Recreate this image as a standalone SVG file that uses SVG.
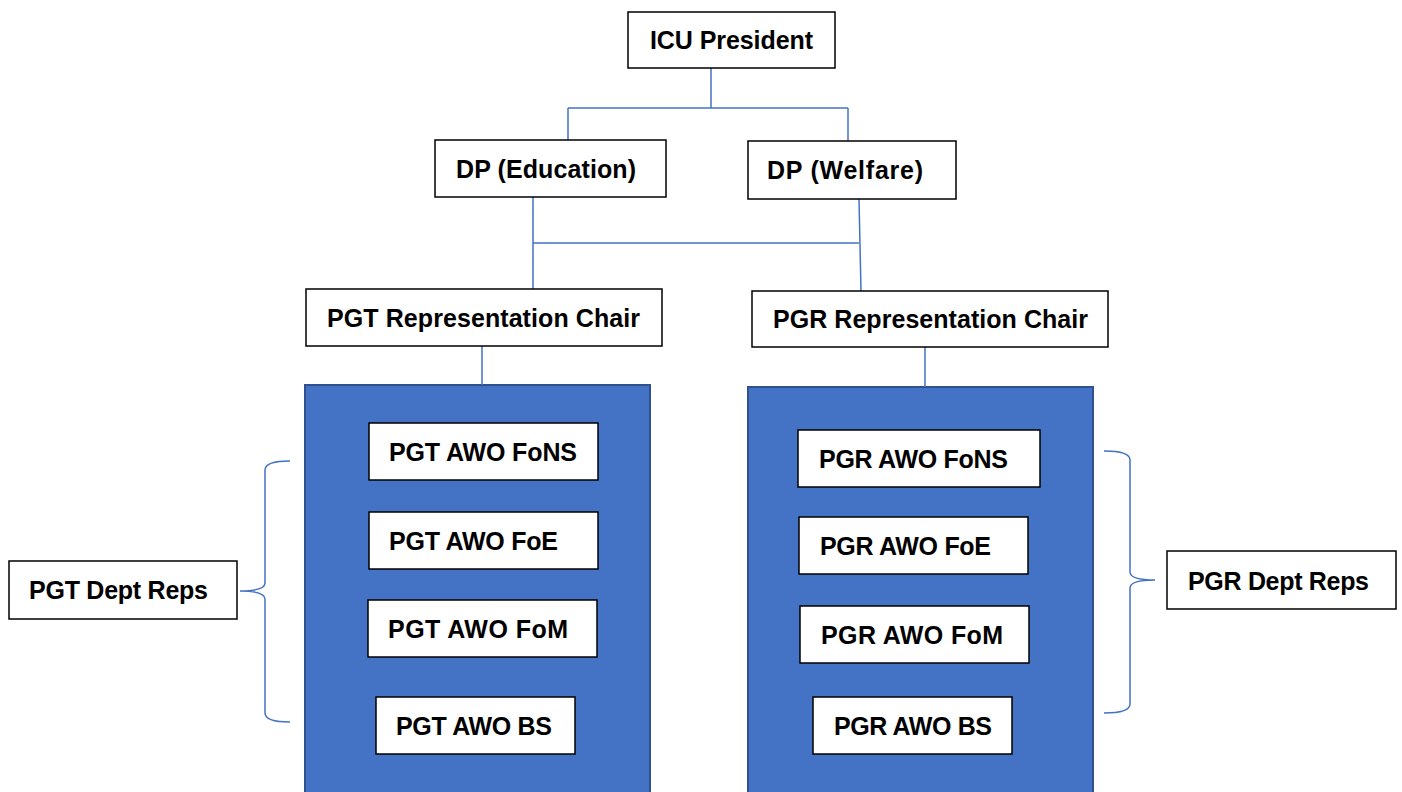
<svg xmlns="http://www.w3.org/2000/svg" width="1402" height="792" viewBox="0 0 1402 792">
<style>
.box{fill:#fff;stroke:#000;stroke-width:1.5}
.panel{fill:#4472C4;stroke:#2F528F;stroke-width:2}
.t{font-family:"Liberation Sans",Arial,sans-serif;font-weight:bold;font-size:25px;fill:#000}
.c{fill:none;stroke:#4472C4;stroke-width:1.5}
</style>
<rect width="1402" height="792" fill="#fff"/>
<g id="panel-pgt"><rect class="panel" x="305" y="385" width="345" height="410"/></g>
<g id="panel-pgr"><rect class="panel" x="748" y="387" width="345" height="410"/></g>
<g id="connectors">
<path class="c" d="M711,68 V108 M568,108 H848 M568,108 V140 M848,108 V141"/>
<path class="c" d="M533,197 V290 M859,199 L861,291 M533,243 H859"/>
<path class="c" d="M482,346 V385 M925,347 V387"/>
<path class="c" d="M290,461 Q265,461 265,470 V583 Q265,591 240,591 Q265,591 265,599 V713 Q265,722 290,722"/>
<path class="c" d="M1104,451 Q1130,451 1130,460 V572 Q1130,580 1155,580 Q1130,580 1130,588 V704 Q1130,713 1104,713"/>
</g>
<g id="icu-president"><rect class="box" x="628" y="12" width="207" height="56"/><text class="t" x="650" y="49" textLength="163">ICU President</text></g>
<g id="dp-education"><rect class="box" x="435" y="140" width="231" height="57"/><text class="t" x="456" y="178" textLength="180">DP (Education)</text></g>
<g id="dp-welfare"><rect class="box" x="748" y="141" width="208" height="58"/><text class="t" x="767" y="179" textLength="156">DP (Welfare)</text></g>
<g id="pgt-chair"><rect class="box" x="306" y="289" width="356" height="57"/><text class="t" x="327" y="327" textLength="313">PGT Representation Chair</text></g>
<g id="pgr-chair"><rect class="box" x="752" y="291" width="356" height="56"/><text class="t" x="773" y="328" textLength="315">PGR Representation Chair</text></g>
<g id="pgt-fons"><rect class="box" x="369" y="423" width="229" height="57"/><text class="t" x="389" y="461" textLength="188">PGT AWO FoNS</text></g>
<g id="pgt-foe"><rect class="box" x="369" y="512" width="229" height="57"/><text class="t" x="389" y="550" textLength="169">PGT AWO FoE</text></g>
<g id="pgt-fom"><rect class="box" x="368" y="600" width="229" height="57"/><text class="t" x="388" y="638" textLength="180">PGT AWO FoM</text></g>
<g id="pgt-bs"><rect class="box" x="376" y="697" width="199" height="57"/><text class="t" x="396" y="735" textLength="156">PGT AWO BS</text></g>
<g id="pgt-dept"><rect class="box" x="9" y="561" width="228" height="58"/><text class="t" x="29" y="599" textLength="179">PGT Dept Reps</text></g>
<g id="pgr-fons"><rect class="box" x="798" y="430" width="242" height="57"/><text class="t" x="819" y="468" textLength="189">PGR AWO FoNS</text></g>
<g id="pgr-foe"><rect class="box" x="799" y="517" width="229" height="57"/><text class="t" x="820" y="555" textLength="171">PGR AWO FoE</text></g>
<g id="pgr-fom"><rect class="box" x="800" y="606" width="229" height="57"/><text class="t" x="821" y="644" textLength="182">PGR AWO FoM</text></g>
<g id="pgr-bs"><rect class="box" x="813" y="697" width="199" height="57"/><text class="t" x="834" y="735" textLength="158">PGR AWO BS</text></g>
<g id="pgr-dept"><rect class="box" x="1167" y="551" width="229" height="58"/><text class="t" x="1188" y="590" textLength="181">PGR Dept Reps</text></g>
</svg>
